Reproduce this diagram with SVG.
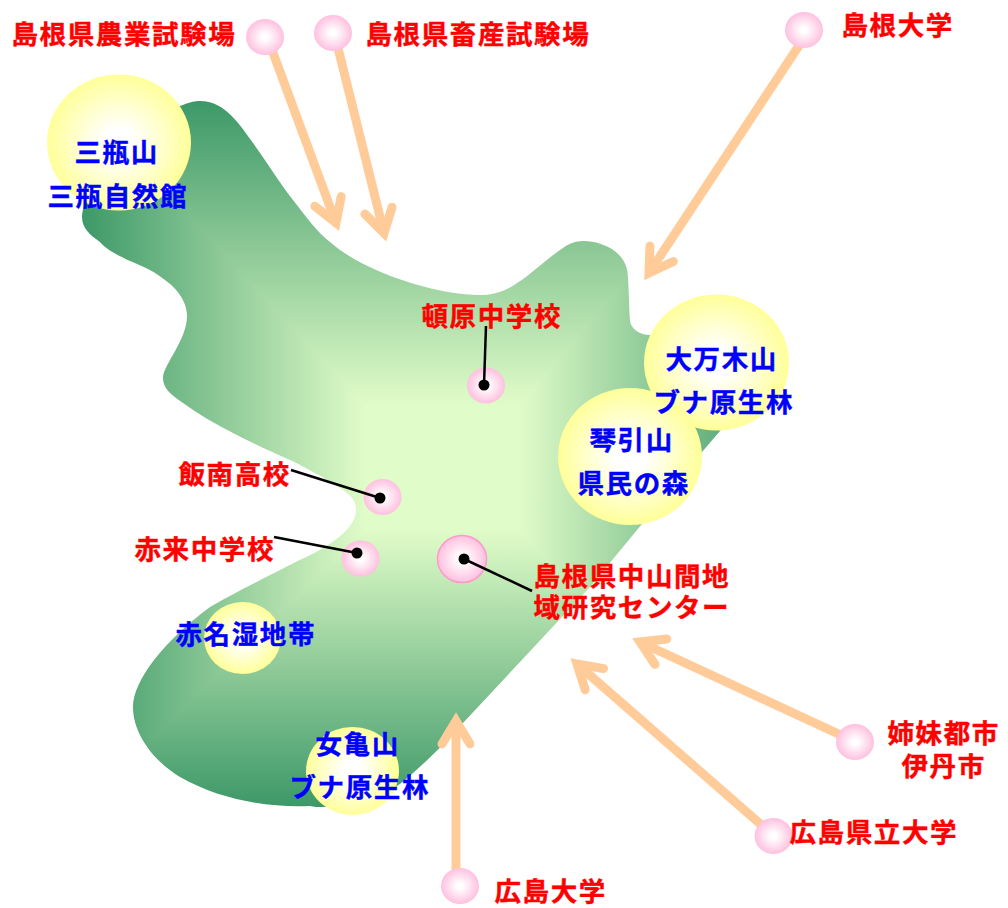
<svg xmlns="http://www.w3.org/2000/svg" width="1008" height="908" viewBox="0 0 1008 908">
<style>
text{font-family:"Noto Sans CJK JP","Liberation Sans",sans-serif;font-weight:700;font-size:26.500px;letter-spacing:1.600px;stroke-width:.4px}
.r{fill:#ff0000;stroke:#ff0000}.b{fill:#0000ff;stroke:#0000ff}
.arrow{fill:none;stroke:#ffcc99;stroke-width:9}
.lead{fill:none;stroke:#000;stroke-width:2.500}
.y{fill:url(#gy)}.p{fill:url(#gp)}
.band{shape-rendering:crispEdges}
</style>
<defs>
<radialGradient id="gy"><stop offset="0" stop-color="#fff"/><stop offset=".2" stop-color="#fff"/><stop offset="1" stop-color="#ffff99"/></radialGradient>
<radialGradient id="gp"><stop offset="0" stop-color="#fff"/><stop offset=".15" stop-color="#fff"/><stop offset="1" stop-color="#ffc0df"/></radialGradient>
<linearGradient id="gl" gradientUnits="userSpaceOnUse" x1="365" y1="0" x2="82" y2="0"><stop offset="0" stop-color="#e0fcc8"/><stop offset="1" stop-color="#3d9868"/></linearGradient>
<linearGradient id="gr" gradientUnits="userSpaceOnUse" x1="520" y1="0" x2="778" y2="0"><stop offset="0" stop-color="#e0fcc8"/><stop offset="1" stop-color="#3d9868"/></linearGradient>
<linearGradient id="gt" gradientUnits="userSpaceOnUse" x1="0" y1="405" x2="0" y2="101"><stop offset="0" stop-color="#e0fcc8"/><stop offset="1" stop-color="#3d9868"/></linearGradient>
<linearGradient id="gb" gradientUnits="userSpaceOnUse" x1="0" y1="530" x2="0" y2="807"><stop offset="0" stop-color="#e0fcc8"/><stop offset="1" stop-color="#3d9868"/></linearGradient>
<clipPath id="blob"><path d="M200 101C225 101 240 125 253 143C266 161 280 183 293 200C307 218 317 232 330 242C345 255 362 264 383 273C400 280 445 296 483 295C500 294 510 288 517 283C532 274 545 260 560 250C568 244 575 241 583 241C600 241 628 250 628 278C629 295 629 305 630 321C631 329 640 335 650 335L700 340L760 380L720 431L702 452L637 530L590 587L463 723C445 743 430 758 413 773C395 790 360 812 333 812C325 810 318 807 310 806C270 808 220 800 180 777C155 762 133 735 133 707C133 680 165 640 210 607C235 592 290 565 320 550C340 538 356 525 356 510C356 500 350 495 343 490C325 478 305 467 290 460C270 451 250 442 233 433C215 424 198 414 183 403C170 394 163 388 163 378C163 365 187 340 187 316C187 300 175 287 165 280C155 272 145 267 130 261C115 254 106 249 100 242C90 235 82 228 82 217C85 180 140 115 180 106C190 102 195 101 200 101Z"/></clipPath>
<marker id="head" markerUnits="userSpaceOnUse" markerWidth="60" markerHeight="60" viewBox="-40 -30 60 60" refX="0" refY="0" orient="auto" overflow="visible"><path d="M-23-14L0 0L-23 14" fill="none" stroke="#ffcc99" stroke-width="9" stroke-linecap="round" stroke-linejoin="miter" stroke-miterlimit="10"/></marker>
<marker id="dot" markerUnits="userSpaceOnUse" markerWidth="12" markerHeight="12" viewBox="-6 -6 12 12" refX="0" refY="0"><circle r="5.500" fill="#000"/></marker>
</defs>

<g id="area" clip-path="url(#blob)">
<rect class="band" x="365" y="405" width="155" height="125" fill="#e0fcc8"/>
<polygon class="band" points="365,405 82,101 82,807 365,530" fill="url(#gl)"/>
<polygon class="band" points="520,405 778,101 778,807 520,530" fill="url(#gr)"/>
<polygon class="band" points="365,405 82,101 778,101 520,405" fill="url(#gt)"/>
<polygon class="band" points="365,530 82,807 778,807 520,530" fill="url(#gb)"/>
</g>

<g id="sanbe"><ellipse class="y" cx="119" cy="142.500" rx="72" ry="68"/><text class="b" x="74.500" y="162">三瓶山</text><text class="b" x="47.500" y="206">三瓶自然館</text></g>
<g id="ohyorogi"><ellipse class="y" cx="716.500" cy="362.500" rx="72.500" ry="68"/><text class="b" x="665.500" y="369">大万木山</text></g>
<g id="kotobiki"><ellipse class="y" cx="630" cy="456.500" rx="72" ry="68.500"/><text class="b" x="589.500" y="450">琴引山</text><text class="b" x="577.500" y="493">県民の森</text></g>
<g id="ohyorogi-label"><text class="b" x="653.500" y="412">ブナ原生林</text></g>
<g id="akana"><ellipse class="y" cx="242.500" cy="638" rx="38.500" ry="36"/><text class="b" x="175.500" y="644">赤名湿地帯</text></g>
<g id="megame"><ellipse class="y" cx="352.500" cy="771" rx="46.500" ry="44"/><text class="b" x="315.500" y="754">女亀山</text><text class="b" x="289.500" y="797">ブナ原生林</text></g>

<g id="tonbara"><ellipse class="p" cx="486" cy="385.500" rx="19" ry="18"/><text class="r" x="421.500" y="326">頓原中学校</text></g>
<g id="iinan"><ellipse class="p" cx="382.500" cy="497" rx="19" ry="18"/><text class="r" x="178.500" y="484">飯南高校</text></g>
<g id="akagi"><ellipse class="p" cx="360.500" cy="558.500" rx="19" ry="18"/><text class="r" x="134.500" y="559">赤来中学校</text></g>
<g id="center"><ellipse class="p" cx="462" cy="559" rx="24.500" ry="23.500" stroke="#ff99cc" stroke-width="1.500"/><text class="r" x="533.500" y="586">島根県中山間地</text><text class="r" x="533.500" y="617">域研究センター</text></g>

<g id="connectors">
<path class="arrow" d="M272 50L336 223" marker-end="url(#head)"/>
<path class="arrow" d="M338 48L384 233" marker-end="url(#head)"/>
<path class="arrow" d="M800 44L649 273" marker-end="url(#head)"/>
<path class="arrow" d="M845 737L640 642" marker-end="url(#head)"/>
<path class="arrow" d="M765 828L577 664" marker-end="url(#head)"/>
<path class="arrow" d="M456 875L456 721" marker-end="url(#head)"/>
<path class="lead" d="M486 326L484 385" marker-end="url(#dot)"/>
<path class="lead" d="M291 470L380 498" marker-end="url(#dot)"/>
<path class="lead" d="M274 537L357 553" marker-end="url(#dot)"/>
<path class="lead" d="M532 591L464 559" marker-end="url(#dot)"/>
</g>

<g id="nogyo"><ellipse class="p" cx="265" cy="37" rx="19" ry="18"/><text class="r" x="11.500" y="44">島根県農業試験場</text></g>
<g id="chikusan"><ellipse class="p" cx="333" cy="33" rx="19" ry="18"/><text class="r" x="365.500" y="44">島根県畜産試験場</text></g>
<g id="shimadai"><ellipse class="p" cx="804" cy="30" rx="19" ry="18"/><text class="r" x="841.500" y="35">島根大学</text></g>
<g id="itami"><ellipse class="p" cx="855" cy="742" rx="19" ry="18"/><text class="r" x="887.500" y="743">姉妹都市</text><text class="r" x="901.500" y="776">伊丹市</text></g>
<g id="kenritsu"><ellipse class="p" cx="773.500" cy="836" rx="19" ry="18"/><text class="r" x="789.500" y="842">広島県立大学</text></g>
<g id="hirodai"><ellipse class="p" cx="460" cy="886" rx="19" ry="18"/><text class="r" x="494.500" y="900.500">広島大学</text></g>
</svg>
